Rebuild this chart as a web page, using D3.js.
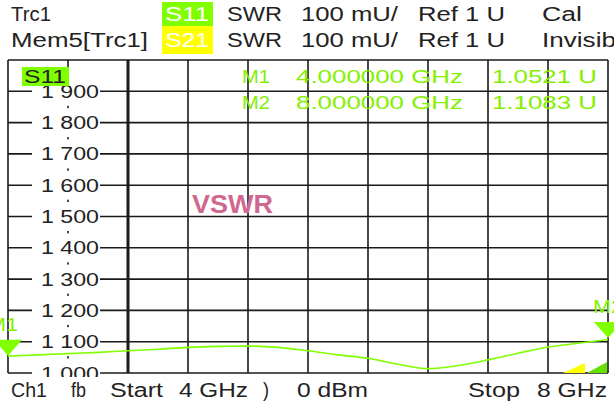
<!DOCTYPE html>
<html><head><meta charset="utf-8">
<script src="https://cdn.jsdelivr.net/npm/d3@7/dist/d3.min.js"></script>
<style>
html,body{margin:0;padding:0;background:#fff;}
svg{display:block;font-family:"Liberation Sans",Arial,sans-serif;}
</style></head>
<body>
<svg id="c" width="614" height="405"></svg>
<script>
// ---- data ----
const freqGHz = [4.0,4.2,4.4,4.6,4.8,5.0,5.2,5.4,5.6,5.8,6.0,6.2,6.4,6.6,6.8,7.0,7.2,7.4,7.6,7.8,8.0];
const swrMU   = [1054,1058,1062,1066,1071,1076,1082,1085,1086,1082,1071,1058,1047,1028,1014,1024,1042,1063,1083,1095,1107];
const yTicks = [1000,1100,1200,1300,1400,1500,1600,1700,1800,1900,2000];
const yTickLabels = ["1 000","1 100","1 200","1 300","1 400","1 500","1 600","1 700","1 800","1 900",""];
const xGrid = [4.0,4.4,4.8,5.2,5.6,6.0,6.4,6.8,7.2,7.6,8.0];
const markerNames = ["M1","M2"];
const markerFreq = [4.0,8.0];
const markerVal = [1052.1,1108.3];
const markerFreqText = ["4.000000 GHz","8.000000 GHz"];
const markerValText = ["1.0521 U","1.1083 U"];

const svg = d3.select("#c");
const x = d3.scaleLinear().domain([4,8]).range([8,608]);
const y = d3.scaleLinear().domain([1000,2000]).range([373,60]);
const GREEN = "#80ff00", TXTGREEN = "#84f000";

// header
function txt(g, s, px, py, len, opt={}) {
  const t = g.append("text").attr("x",px).attr("y",py).text(s)
    .attr("font-size", opt.size||20).attr("fill", opt.fill||"#222");
  if (len) t.attr("textLength",len).attr("lengthAdjust","spacingAndGlyphs");
  if (opt.weight) t.attr("font-weight",opt.weight);
  return t;
}
const hdr = svg.append("g");
txt(hdr,"Trc1",11,21,40);
hdr.append("rect").attr("x",162).attr("y",2).attr("width",51).attr("height",24).attr("fill",GREEN);
txt(hdr,"S11",165,21,44,{fill:"#fff"});
txt(hdr,"SWR",227,21,55); txt(hdr,"100 mU/",301,21,97); txt(hdr,"Ref 1 U",418,21,87); txt(hdr,"Cal",542,21,40);
txt(hdr,"Mem5[Trc1]",11,47,137);
hdr.append("rect").attr("x",162).attr("y",26).attr("width",51).attr("height",28).attr("fill","#ffff00");
txt(hdr,"S21",165,47,44,{fill:"#fff"});
txt(hdr,"SWR",227,47,55); txt(hdr,"100 mU/",301,47,97); txt(hdr,"Ref 1 U",418,47,87); txt(hdr,"Invisib",542,47,74);

// grid
const grid = svg.append("g").attr("stroke","#1a1a1a");
grid.selectAll("line.h").data(yTicks).join("line")
  .attr("x1",x(4)).attr("x2",x(8)).attr("y1",d=>y(d)).attr("y2",d=>y(d)).attr("stroke-width",1.6);
grid.selectAll("line.v").data(xGrid).join("line")
  .attr("x1",d=>x(d)).attr("x2",d=>x(d)).attr("y1",y(2000)).attr("y2",y(1000))
  .attr("stroke-width",(d,i)=>i===2?3:1.6);

// y tick labels with white background
svg.append("clipPath").attr("id","pc").append("rect").attr("x",0).attr("y",0).attr("width",614).attr("height",377);
const yl = svg.append("g").attr("clip-path","url(#pc)");
yTicks.filter((d,i)=>yTickLabels[i]).forEach((d,i)=>{
  yl.append("rect").attr("x",32).attr("y",y(d)-14.5).attr("width",68).attr("height",29).attr("fill","#fff");
  txt(yl,yTickLabels[i],41,y(d)+6.5,58,{size:18});
});

// VSWR label
txt(svg,"VSWR",192,213,81,{size:25,weight:"bold",fill:"#d0678e"});

// badge
svg.append("rect").attr("x",22).attr("y",67).attr("width",47).attr("height",19).attr("fill",GREEN);
txt(svg,"S11",24,83,42,{size:18});

// marker readouts
markerNames.forEach((m,i)=>{
  const by = 83 + i*26;
  txt(svg,m,242,by,28,{size:19,fill:TXTGREEN});
  txt(svg,markerFreqText[i],296,by,167,{size:19,fill:TXTGREEN});
  txt(svg,markerValText[i],492,by,105,{size:19,fill:TXTGREEN});
});

// trace
const line = d3.line().x((d,i)=>x(freqGHz[i])).y(d=>y(d)).curve(d3.curveMonotoneX);
svg.append("path").datum(swrMU).attr("d",line).attr("fill","none").attr("stroke",GREEN).attr("stroke-width",1.6);

// markers
markerNames.forEach((m,i)=>{
  const mx = x(markerFreq[i]), my = y(markerVal[i]) - 1;
  const hw = 14, h = 16;
  svg.append("path").attr("d",`M${mx-hw},${my-h}L${mx+hw},${my-h}L${mx},${my}Z`).attr("fill",GREEN);
  txt(svg,m, i===0? mx-20 : mx-15, my-h-9, 30,{size:19,fill:TXTGREEN});
});

// limit/stimulus flags bottom right
const bx = x(8), by0 = y(1000);
svg.append("path").attr("d",`M${bx-45},${by0}L${bx-23},${by0-10}L${bx-23},${by0}Z`).attr("fill","#ffff00");
svg.append("path").attr("d",`M${bx-21},${by0}L${bx-1},${by0-11}L${bx-1},${by0}Z`).attr("fill","#66e000");

// footer
const ft = svg.append("g");
txt(ft,"Ch1",11,397,36); txt(ft,"fb",71,397,15); txt(ft,"Start",110,397,53);
txt(ft,"4 GHz",179,397,69); txt(ft,")",263,397,6); txt(ft,"0 dBm",297,397,71);
txt(ft,"Stop",468,397,52); txt(ft,"8 GHz",537,397,70);
</script>
</body></html>
